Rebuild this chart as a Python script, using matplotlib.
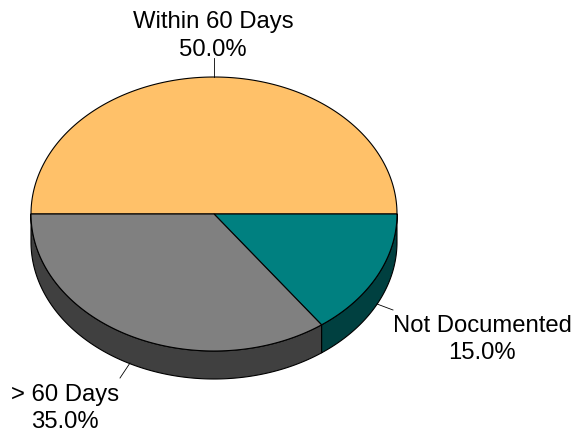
import numpy as np
import matplotlib
matplotlib.use("Agg")
import matplotlib.pyplot as plt
from matplotlib.patches import Polygon

# slices go clockwise starting from the left edge of the pie
labels = ["Within 60 Days", "Not Documented", "> 60 Days"]
shares = [50.0, 15.0, 35.0]
top_colors = ["#FFC169", "#008080", "#808080"]
side_colors = ["#7F6034", "#004040", "#404040"]

CX, CY = 214, 214   # pie centre in px
RX, RY = 183, 137
DEPTH = 28
START = 180

plt.rcParams["font.family"] = ["Liberation Sans", "DejaVu Sans"]

fig = plt.figure(figsize=(5.74, 4.34), dpi=100)
ax = fig.add_axes([0, 0, 1, 1])
ax.set_xlim(0, 574)
ax.set_ylim(434, 0)
ax.axis("off")


def rim(a0, a1, dy=0):
  # angles in degrees, counted clockwise on screen
  t = np.radians(np.linspace(a0, a1, 200))
  return np.column_stack([CX + RX * np.cos(t), CY + dy - RY * np.sin(t)])


# bounds of each slice
angles = START - np.cumsum([0] + shares) * 3.6

# side walls, only the front half of the pie shows
for i in range(len(shares)):
  a0, a1 = angles[i], angles[i + 1]
  a0_vis, a1_vis = min(a0, 0), max(a1, -180)
  if a0_vis <= a1_vis:
    continue
  upper = rim(a0_vis, a1_vis)
  lower = rim(a1_vis, a0_vis, DEPTH)
  ax.add_patch(Polygon(np.vstack([upper, lower]), closed=True, fc=side_colors[i],
                       ec="black", lw=0.8, joinstyle="round"))

# top faces
for i in range(len(shares)):
  pts = np.vstack([[CX, CY], rim(angles[i], angles[i + 1])])
  ax.add_patch(Polygon(pts, closed=True, fc=top_colors[i], ec="black", lw=0.8,
                       joinstyle="round"))

# leader lines and labels
ax.plot([214, 214], [77, 58], color="black", lw=0.6)
ax.plot([377, 393], [304, 310], color="black", lw=0.6)
ax.plot([130, 120], [363, 378], color="black", lw=0.6)

fs = 17.2
ls = 1.3
ax.text(213, 36, f"{labels[0]}\n{shares[0]:.1f}%", ha="center", va="center", fontsize=fs, linespacing=ls)
ax.text(482, 339.5, f"{labels[1]}\n{shares[1]:.1f}%", ha="center", va="center", fontsize=fs, linespacing=ls)
ax.text(65, 408.5, f"{labels[2]}\n{shares[2]:.1f}%", ha="center", va="center", fontsize=fs, linespacing=ls)

fig.savefig("out.png", dpi=100)
